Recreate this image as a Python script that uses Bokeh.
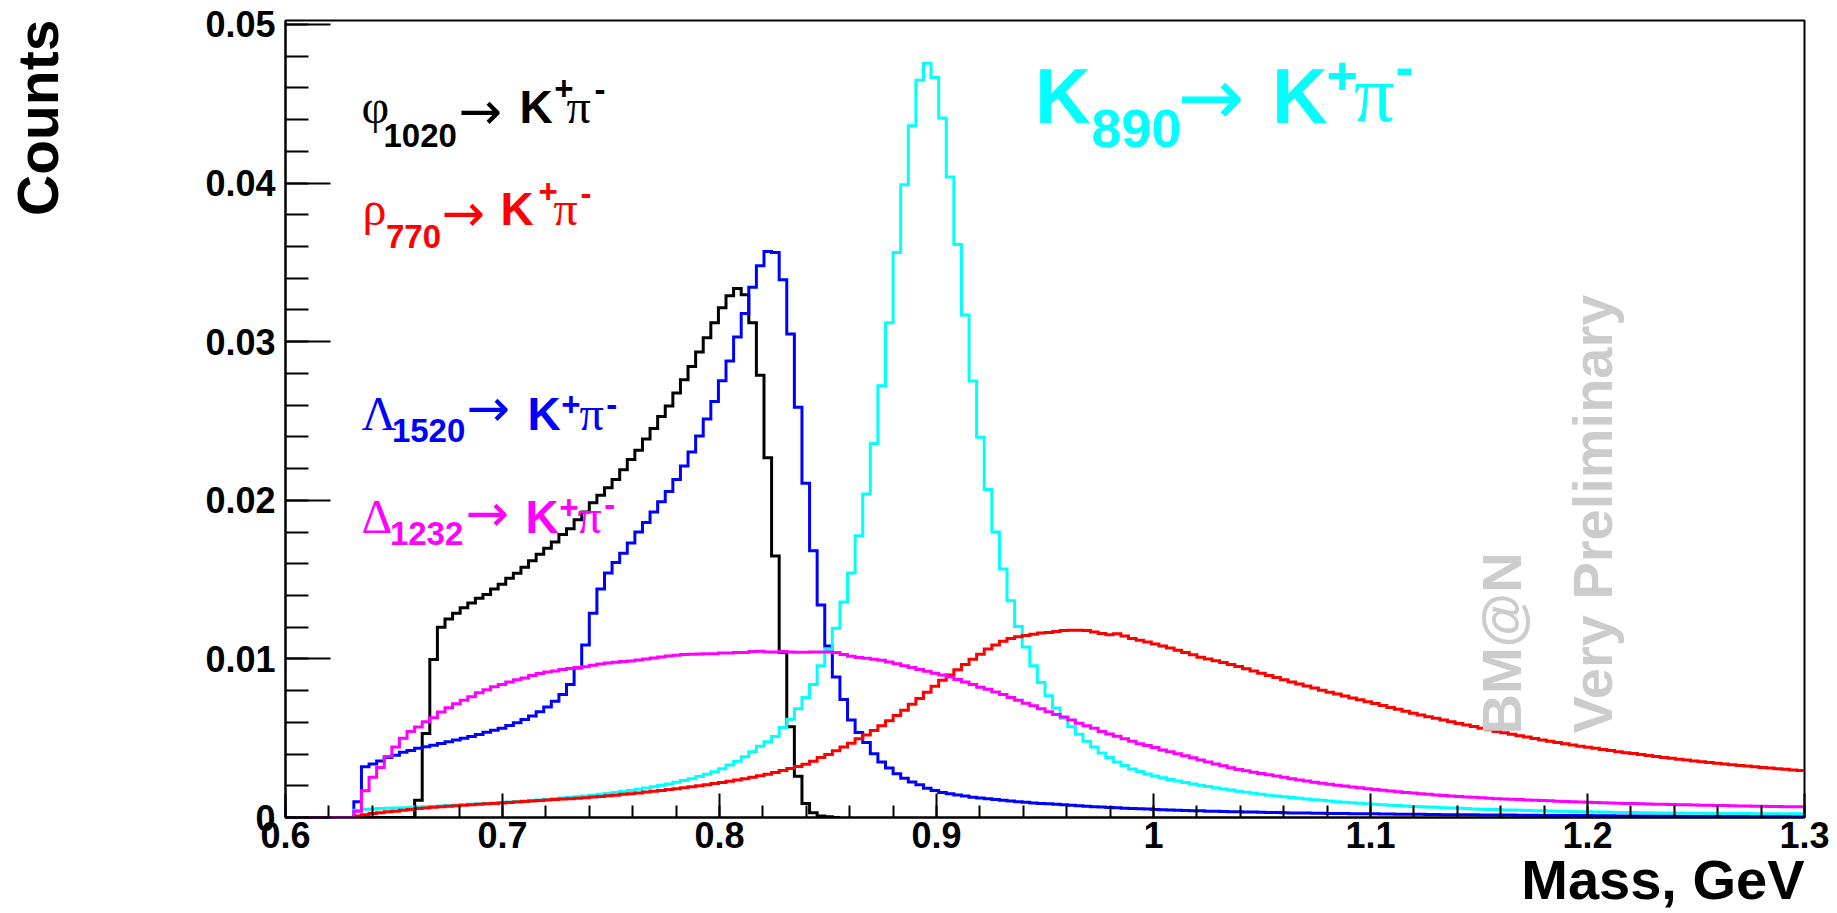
from math import pi
from bokeh.plotting import figure
from bokeh.layouts import row
from bokeh.models import Label, FixedTicker, Range1d, Title
from bokeh.embed import file_html
from bokeh.resources import INLINE

# ---------------- binning / axes ----------------
X_MIN, X_MAX, BIN_W = 0.6, 1.3, 0.0035
Y_MAX = 0.05025

x_ticks = [0.6, 0.7, 0.8, 0.9, 1.0, 1.1, 1.2, 1.3]
x_tick_labels = ["0.6", "0.7", "0.8", "0.9", "1", "1.1", "1.2", "1.3"]
y_ticks = [0.0, 0.01, 0.02, 0.03, 0.04, 0.05]
y_tick_labels = ["0", "0.01", "0.02", "0.03", "0.04", "0.05"]

# ---------------- data (bin contents, bins of 0.0035 GeV from 0.6) ----------------
phi1020 = [
    0, 0, 0, 0, 0, 0, 0, 0, 0, 0,
    0, 0, 0, 0, 0, 0, 0, 0.00108, 0.0053, 0.00996,
    0.0120, 0.01252, 0.01288, 0.01323, 0.01352, 0.01382, 0.01406, 0.01441, 0.0147, 0.01508,
    0.0154, 0.01578, 0.01619, 0.01659, 0.01697, 0.01737, 0.01784, 0.0182, 0.01878, 0.01926,
    0.01985, 0.02032, 0.02079, 0.02131, 0.02193, 0.02257, 0.02316, 0.02387, 0.02453, 0.02528,
    0.02594, 0.02677, 0.0276, 0.02843, 0.02935, 0.03025, 0.03119, 0.03214, 0.03289, 0.03336,
    0.03296, 0.03119, 0.02788, 0.02268, 0.01649, 0.0104, 0.00572, 0.0026, 0.00088, 0.0003,
    0.0001, 0.00004, 0,
]

lambda1520 = [
    0, 0, 0, 0, 0, 0, 0, 0, 0, 0.001,
    0.0032, 0.00337, 0.00356, 0.00378, 0.00393, 0.00411, 0.00423, 0.00436, 0.00446, 0.00456,
    0.00467, 0.00478, 0.00489, 0.005, 0.0051, 0.00524, 0.00537, 0.0055, 0.00563, 0.0058,
    0.00598, 0.00618, 0.0064, 0.00667, 0.00697, 0.00733, 0.00776, 0.00839, 0.00943, 0.01088,
    0.01288, 0.01441, 0.01541, 0.01607, 0.01666, 0.0173, 0.018, 0.0186, 0.01926, 0.0199,
    0.02056, 0.02131, 0.02216, 0.02304, 0.02405, 0.02512, 0.02623, 0.02753, 0.02878, 0.03029,
    0.03178, 0.03343, 0.03478, 0.03568, 0.03563, 0.03391, 0.03048, 0.02587, 0.02108, 0.01682,
    0.0134, 0.01082, 0.00886, 0.00744, 0.00614, 0.00536, 0.00473, 0.00402, 0.0035, 0.00312,
    0.00276, 0.00248, 0.00224, 0.00206, 0.00184, 0.0017, 0.00158, 0.00149, 0.00142, 0.00135,
    0.00128, 0.00123, 0.00118, 0.00113, 0.00109, 0.00104, 0.001, 0.00096, 0.00092, 0.00089,
    0.00086, 0.00083, 0.0008, 0.00077, 0.00074, 0.00071, 0.00068, 0.00066, 0.00063, 0.00061,
    0.00059, 0.00057, 0.00055, 0.00053, 0.00051, 0.00049, 0.00047, 0.00046, 0.00044, 0.00043,
    0.00042, 0.0004, 0.00039, 0.00038, 0.00037, 0.00036, 0.00035, 0.00034, 0.00033, 0.00032,
    0.00031, 0.0003, 0.00029, 0.00029, 0.00028, 0.00027, 0.00027, 0.00026, 0.00025, 0.00025,
    0.00024, 0.00024, 0.00023, 0.00023, 0.00022, 0.00022, 0.00021, 0.00021, 0.0002, 0.0002,
    0.00019, 0.00019, 0.00018, 0.00018, 0.00017, 0.00017, 0.00017, 0.00016, 0.00016, 0.00015,
    0.00015, 0.00015, 0.00014, 0.00014, 0.00014, 0.00013, 0.00013, 0.00013, 0.00012, 0.00012,
    0.00012, 0.00012, 0.00011, 0.00011, 0.00011, 0.0001, 0.0001, 0.0001, 0.0001, 0.00009,
    0.00009, 0.00009, 0.00009, 0.00008, 0.00008, 0.00008, 0.00008, 0.00008, 0.00007, 0.00007,
    0.00007, 0.00007, 0.00007, 0.00006, 0.00006, 0.00006, 0.00006, 0.00006, 0.00005, 0.00005,
]

k890 = [
    0, 0, 0, 0, 0, 0, 0, 0, 0, 0.00045,
    0.00052, 0.00054, 0.00056, 0.00058, 0.0006, 0.00062, 0.00064, 0.00066, 0.00068, 0.0007,
    0.00073, 0.00075, 0.00078, 0.0008, 0.00083, 0.00086, 0.00089, 0.00092, 0.00095, 0.00098,
    0.00101, 0.00104, 0.00108, 0.00111, 0.00115, 0.00119, 0.00123, 0.00127, 0.00131, 0.00136,
    0.00141, 0.00146, 0.00152, 0.00158, 0.00164, 0.00171, 0.00178, 0.00186, 0.00194, 0.00203,
    0.00212, 0.00222, 0.00233, 0.00245, 0.00258, 0.00272, 0.00288, 0.00308, 0.00331, 0.00354,
    0.00383, 0.00414, 0.00449, 0.00477, 0.0051, 0.00567, 0.00619, 0.00685, 0.00756, 0.00839,
    0.00957, 0.01059, 0.01193, 0.01359, 0.01541, 0.01777, 0.02039, 0.02358, 0.02722, 0.03119,
    0.03562, 0.0399, 0.04362, 0.04649, 0.04755, 0.04665, 0.0441, 0.04038, 0.03612, 0.03168,
    0.02752, 0.02398, 0.02068, 0.018, 0.01567, 0.01366, 0.01205, 0.01075, 0.00957, 0.00851,
    0.00768, 0.0069, 0.00626, 0.00572, 0.00525, 0.0048, 0.00444, 0.00406, 0.00378, 0.0035,
    0.00328, 0.00306, 0.0029, 0.00275, 0.00262, 0.0025, 0.0024, 0.0023, 0.0022, 0.00212,
    0.00204, 0.00196, 0.00188, 0.0018, 0.00173, 0.00166, 0.00159, 0.00153, 0.00147, 0.00141,
    0.00136, 0.00131, 0.00126, 0.00121, 0.00116, 0.00112, 0.00108, 0.00104, 0.001, 0.00096,
    0.00093, 0.0009, 0.00087, 0.00084, 0.00081, 0.00078, 0.00075, 0.00072, 0.0007, 0.00068,
    0.00066, 0.00064, 0.00062, 0.0006, 0.00058, 0.00056, 0.00054, 0.00052, 0.00051, 0.0005,
    0.00048, 0.00047, 0.00046, 0.00044, 0.00043, 0.00042, 0.00041, 0.0004, 0.00039, 0.00038,
    0.00037, 0.00036, 0.00035, 0.00034, 0.00033, 0.00032, 0.00032, 0.00031, 0.0003, 0.0003,
    0.00029, 0.00029, 0.00028, 0.00028, 0.00027, 0.00027, 0.00027, 0.00026, 0.00026, 0.00026,
    0.00025, 0.00025, 0.00025, 0.00024, 0.00024, 0.00024, 0.00023, 0.00023, 0.00023, 0.00023,
]

rho770 = [
    0, 0, 0, 0, 0, 0, 0, 0, 0, 0.0001,
    0.00017, 0.00025, 0.0003, 0.00036, 0.0004, 0.00046, 0.0005, 0.00056, 0.0006, 0.00065,
    0.00068, 0.00071, 0.00074, 0.00077, 0.0008, 0.00083, 0.00086, 0.00089, 0.00092, 0.00095,
    0.00098, 0.00101, 0.00104, 0.00107, 0.0011, 0.00113, 0.00116, 0.00119, 0.00122, 0.00125,
    0.00129, 0.00133, 0.00137, 0.00141, 0.00146, 0.0015, 0.00155, 0.0016, 0.00165, 0.0017,
    0.00176, 0.00182, 0.00188, 0.00194, 0.002, 0.00207, 0.00214, 0.00221, 0.00229, 0.00237,
    0.00245, 0.00254, 0.00263, 0.00273, 0.00284, 0.00296, 0.00309, 0.00322, 0.00336, 0.00354,
    0.00378, 0.00397, 0.00421, 0.00444, 0.00468, 0.00496, 0.0052, 0.00548, 0.00579, 0.0061,
    0.00643, 0.00676, 0.00714, 0.00751, 0.00789, 0.00827, 0.00865, 0.00898, 0.00931, 0.00964,
    0.00997, 0.0103, 0.01063, 0.01087, 0.01111, 0.01129, 0.01139, 0.01148, 0.01155, 0.01163,
    0.01167, 0.01172, 0.01179, 0.01181, 0.01181, 0.01179, 0.0117, 0.0116, 0.01153, 0.01158,
    0.01144, 0.01129, 0.01118, 0.01106, 0.01094, 0.01082, 0.01068, 0.01054, 0.0104, 0.01026,
    0.01011, 0.00999, 0.00988, 0.00977, 0.00965, 0.00952, 0.00938, 0.00924, 0.0091, 0.00896,
    0.00882, 0.00868, 0.00855, 0.00842, 0.00829, 0.00816, 0.00803, 0.0079, 0.00778, 0.00766,
    0.00754, 0.00742, 0.0073, 0.00718, 0.00706, 0.00694, 0.00682, 0.0067, 0.00658, 0.00647,
    0.00636, 0.00625, 0.00614, 0.00603, 0.00593, 0.00583, 0.00573, 0.00563, 0.00553, 0.00543,
    0.00534, 0.00525, 0.00516, 0.00507, 0.00498, 0.00489, 0.00481, 0.00473, 0.00465, 0.00457,
    0.0045, 0.00443, 0.00436, 0.00429, 0.00422, 0.00415, 0.00409, 0.00403, 0.00397, 0.00391,
    0.00385, 0.00379, 0.00373, 0.00368, 0.00362, 0.00357, 0.00352, 0.00347, 0.00342, 0.00337,
    0.00333, 0.00328, 0.00324, 0.0032, 0.00316, 0.00312, 0.00308, 0.00304, 0.003, 0.00297,
]

delta1232 = [
    0, 0, 0, 0, 0, 0, 0, 0, 0, 0.0004,
    0.00169, 0.00253, 0.00316, 0.00385, 0.00445, 0.005, 0.00543, 0.00571, 0.00604, 0.00629,
    0.00665, 0.00692, 0.00717, 0.0074, 0.00761, 0.00786, 0.00805, 0.00824, 0.00839, 0.00855,
    0.00868, 0.0088, 0.00895, 0.00908, 0.00918, 0.00924, 0.00933, 0.00939, 0.00945, 0.00951,
    0.0096, 0.00968, 0.00974, 0.00979, 0.00983, 0.00987, 0.00993, 0.01, 0.01006, 0.01012,
    0.01018, 0.01023, 0.01027, 0.01029, 0.01031, 0.01033, 0.01033, 0.01037, 0.01037, 0.0104,
    0.0104, 0.01046, 0.01048, 0.01044, 0.01044, 0.01046, 0.01044, 0.01042, 0.01042, 0.01043,
    0.01044, 0.01043, 0.0104, 0.01028, 0.01016, 0.01009, 0.01004, 0.00997, 0.00992, 0.00981,
    0.00969, 0.00957, 0.00945, 0.00933, 0.00922, 0.0091, 0.00898, 0.00886, 0.0087, 0.00855,
    0.00839, 0.00822, 0.00808, 0.00792, 0.00775, 0.00756, 0.0074, 0.00721, 0.00704, 0.00685,
    0.00666, 0.0065, 0.00633, 0.00614, 0.00595, 0.00579, 0.00562, 0.00543, 0.00527, 0.00513,
    0.00496, 0.0048, 0.00465, 0.00454, 0.00442, 0.00425, 0.00414, 0.00402, 0.0039, 0.00376,
    0.00362, 0.0035, 0.00338, 0.00326, 0.00314, 0.00303, 0.00294, 0.00285, 0.00277, 0.00269,
    0.00261, 0.00253, 0.00245, 0.00237, 0.0023, 0.00223, 0.00216, 0.0021, 0.00204, 0.00198,
    0.00192, 0.00187, 0.00182, 0.00177, 0.00172, 0.00167, 0.00163, 0.00158, 0.00154, 0.0015,
    0.00146, 0.00142, 0.00139, 0.00136, 0.00133, 0.0013, 0.00127, 0.00124, 0.00122, 0.00119,
    0.00117, 0.00115, 0.00113, 0.00111, 0.00109, 0.00107, 0.00105, 0.00103, 0.00101, 0.00099,
    0.00098, 0.00096, 0.00095, 0.00093, 0.00092, 0.0009, 0.00089, 0.00088, 0.00086, 0.00085,
    0.00084, 0.00083, 0.00082, 0.00081, 0.0008, 0.00079, 0.00078, 0.00077, 0.00076, 0.00075,
    0.00074, 0.00073, 0.00072, 0.00071, 0.00071, 0.0007, 0.00069, 0.00068, 0.00068, 0.00067,
]

series = [
    (phi1020, "#000000"),
    (lambda1520, "#0000ff"),
    (k890, "#00ffff"),
    (rho770, "#ff0000"),
    (delta1232, "#ff00ff"),
]

# ---------------- layout geometry (page pixels) ----------------
LW = 100                       # narrow strip on the left holding the "Counts" title
H = 912
FX0, FX1, FY0, FY1 = 285.0, 1804.0, 20.0, 817.0
W = 1829 - LW
BASE_SHIFT = 0.35              # rendered baseline sits ~0.35em past the anchor

# ---------------- left strip with the y title ----------------
pl = figure(width=LW, height=H, x_range=Range1d(0, LW), y_range=Range1d(0, H),
            output_backend="svg", toolbar_location=None, title=None,
            x_axis_location=None, y_axis_location=None,
            min_border_left=0, min_border_right=0, min_border_top=0, min_border_bottom=0)
pl.outline_line_color = None
pl.xgrid.visible = False
pl.ygrid.visible = False
pl.background_fill_color = "white"
pl.border_fill_color = "white"
pl.add_layout(Label(x=37, y=H + 1, text="Counts", text_font="Liberation Sans",
                    text_font_style="bold", text_font_size="57px", text_color="black",
                    text_align="right", text_baseline="alphabetic", angle=pi / 2))

# ---------------- main figure ----------------
p = figure(width=W, height=H, x_range=Range1d(X_MIN, X_MAX), y_range=Range1d(0, Y_MAX),
           output_backend="svg", toolbar_location=None, title=None,
           min_border_left=int(FX0) - LW, min_border_right=1829 - int(FX1),
           min_border_top=int(FY0), min_border_bottom=H - int(FY1))
p.background_fill_color = "white"
p.border_fill_color = "white"
p.outline_line_color = "black"
p.outline_line_width = 2
p.xgrid.visible = False
p.ygrid.visible = False

for vals, col in series:
    edges = [X_MIN + BIN_W * i for i in range(len(vals) + 1)]
    ys = list(vals) + [vals[-1]]
    p.step(x=edges, y=ys, mode="after", line_color=col, line_width=3, line_join="miter")

x_minor = [round(X_MIN + 0.02 * i, 2) for i in range(36)]
y_minor = [round(0.002 * i, 3) for i in range(26)]
p.xaxis.ticker = FixedTicker(ticks=x_ticks, minor_ticks=x_minor)
p.yaxis.ticker = FixedTicker(ticks=y_ticks, minor_ticks=y_minor)
p.xaxis.major_label_overrides = dict(zip(x_ticks, x_tick_labels))
p.yaxis.major_label_overrides = dict(zip(y_ticks, y_tick_labels))

for ax in (p.xaxis[0], p.yaxis[0]):
    ax.axis_line_width = 2
    ax.axis_line_color = "black"
    ax.major_tick_line_width = 2
    ax.minor_tick_line_width = 2
    ax.major_tick_line_color = "black"
    ax.minor_tick_line_color = "black"
    ax.major_tick_out = 0
    ax.minor_tick_out = 0
    ax.major_label_text_font = "Liberation Sans"
    ax.major_label_text_font_style = "bold"
    ax.major_label_text_color = "black"
    ax.major_label_text_font_size = "36px"

p.xaxis.major_tick_in = 24
p.xaxis.minor_tick_in = 12
p.xaxis.major_label_standoff = 4
p.yaxis.major_tick_in = 45
p.yaxis.minor_tick_in = 23
p.yaxis.major_label_standoff = 10

# x title in the panel below the axis
p.add_layout(Title(text="Mass, GeV", align="right", text_font="Liberation Sans",
                   text_font_style="bold", text_font_size="56px", text_color="black",
                   standoff=-10), "below")


# ---------------- text placement helpers (page pixel -> data) ----------------
def dx(X):
    return X_MIN + (X - FX0) * (X_MAX - X_MIN) / (FX1 - FX0)


def dy(Y):
    return (FY1 - Y) * Y_MAX / (FY1 - FY0)


def txt(X, Y, text, size, color, font="Liberation Sans", style="bold", align="left", angle=0.0):
    # (X, Y): wanted baseline start in page pixels
    if angle == 0.0:
        Y = Y - BASE_SHIFT * size
    else:
        X = X - BASE_SHIFT * size
    p.add_layout(Label(x=dx(X), y=dy(Y), text=text, text_font=font, text_font_size=f"{size}px",
                       text_font_style=style, text_color=color, text_align=align,
                       text_baseline="alphabetic", angle=angle))


SERIF = "Liberation Serif"
ARROW = "DejaVu Sans"

# decay labels
rows = [
    ("\u03c6", "1020", "#000000", 123, 147, 128.6, (361, 383, 458, 519, 553.7, 566, 594), (100, 100.7)),
    ("\u03c1", "770", "#ff0000", 225, 248, 230.6, (362, 385.5, 441, 500, 538, 553, 580), (203, 205)),
    ("\u039b", "1520", "#0000ff", 430, 442, 425.6, (361, 391.4, 466, 527, 560.7, 579, 605.7), (415.4, 415.7)),
    ("\u0394", "1232", "#ff00ff", 533, 545, 530.6, (361, 389.4, 465, 525, 558.7, 577, 603.7), (518.4, 515.7)),
]
for greek, sub, col, base, sbase, abase, xs, sups in rows:
    txt(xs[0], base, greek, 48, col, font=SERIF, style="normal")
    txt(xs[1], sbase, sub, 33, col)
    txt(xs[2], abase, "\u2192", 52, col, font=ARROW, style="normal")
    txt(xs[3], base, "K", 46, col)
    txt(xs[4], sups[0], "+", 33, col)
    txt(xs[5], base, "\u03c0", 48, col, font=SERIF, style="normal")
    txt(xs[6], sups[1], "-", 33, col)

# K890 label
CY = "#00ffff"
txt(1034.4, 122, "K", 77, CY)
txt(1091, 147, "890", 54, CY)
txt(1177, 125.4, "\u2192", 80, CY, font=ARROW, style="normal")
txt(1271.4, 122, "K", 77, CY)
txt(1326, 93.6, "+", 54, CY)
txt(1353.5, 121, "\u03c0", 80, CY, font=SERIF, style="normal")
txt(1395, 86.3, "-", 54, CY)

# watermark
GR = "#cccccc"
txt(1521, 734, "BM@N", 56, GR, align="left", angle=pi / 2)
txt(1612, 733, "Very Preliminary", 56, GR, align="left", angle=pi / 2)

open("out.html", "w").write(file_html(row(pl, p), INLINE))
